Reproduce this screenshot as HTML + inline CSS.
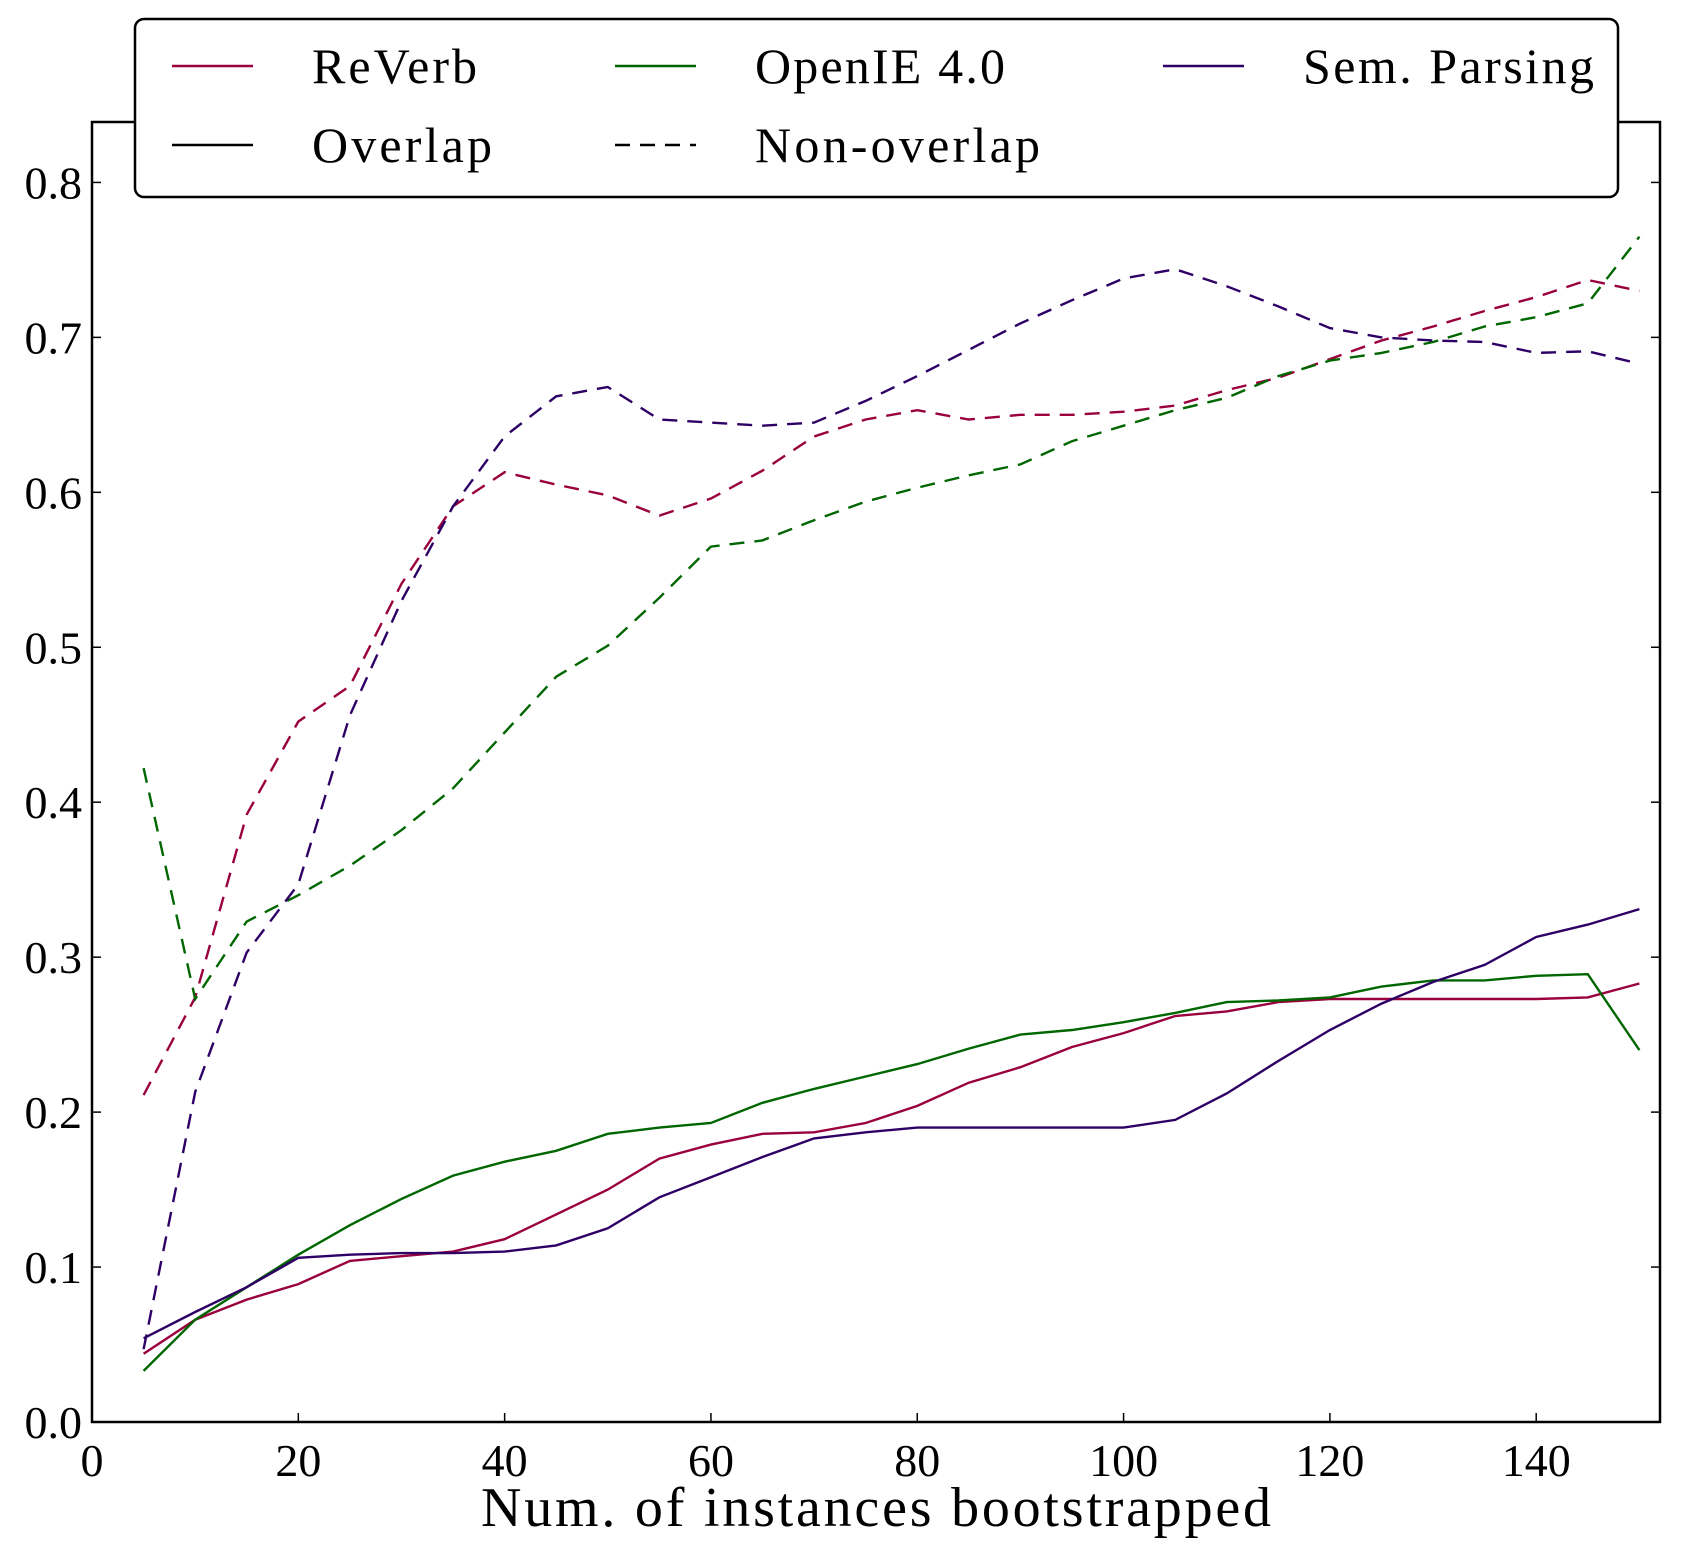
<!DOCTYPE html>
<html><head><meta charset="utf-8"><style>
html,body{margin:0;padding:0;background:#fff}
svg{display:block;font-family:"Liberation Serif",serif}
</style></head><body>
<svg id="chart" width="1681" height="1560" viewBox="0 0 1681 1560">
<g id="marks"></g>
<g id="axes"></g>
</svg>
<script>
const xValues=[5,10,15,20,25,30,35,40,45,50,55,60,65,70,75,80,85,90,95,100,105,110,115,120,125,130,135,140,145,150];
const reverbOverlap=[0.044,0.066,0.079,0.089,0.104,0.107,0.110,0.118,0.134,0.150,0.170,0.179,0.186,0.187,0.193,0.204,0.219,0.229,0.242,0.251,0.262,0.265,0.271,0.273,0.273,0.273,0.273,0.273,0.274,0.283];
const openieOverlap=[0.033,0.066,0.087,0.108,0.127,0.144,0.159,0.168,0.175,0.186,0.190,0.193,0.206,0.215,0.223,0.231,0.241,0.250,0.253,0.258,0.264,0.271,0.272,0.274,0.281,0.285,0.285,0.288,0.289,0.240];
const semOverlap=[0.054,0.071,0.087,0.106,0.108,0.109,0.109,0.110,0.114,0.125,0.145,0.158,0.171,0.183,0.187,0.190,0.190,0.190,0.190,0.190,0.195,0.212,0.233,0.253,0.270,0.284,0.295,0.313,0.321,0.331];
const reverbNon=[0.211,0.274,0.392,0.452,0.475,0.541,0.591,0.613,0.605,0.598,0.585,0.596,0.614,0.636,0.647,0.653,0.647,0.650,0.650,0.652,0.656,0.666,0.674,0.686,0.698,0.707,0.717,0.726,0.737,0.730];
const openieNon=[0.422,0.273,0.323,0.340,0.359,0.382,0.409,0.445,0.481,0.501,0.532,0.565,0.569,0.582,0.594,0.603,0.611,0.618,0.633,0.643,0.653,0.661,0.675,0.685,0.690,0.697,0.707,0.713,0.722,0.765];
const semNon=[0.047,0.213,0.303,0.347,0.456,0.530,0.591,0.636,0.662,0.668,0.647,0.645,0.643,0.645,0.659,0.675,0.692,0.709,0.724,0.738,0.744,0.733,0.720,0.706,0.700,0.698,0.697,0.690,0.691,0.683];
const xTicks=[0,20,40,60,80,100,120,140];
const yTicks=[0.0,0.1,0.2,0.3,0.4,0.5,0.6,0.7,0.8];

const L=92,R=1660,T=122,B=1422,XMAX=152,YMAX=0.839;
const sx=v=>L+(v/XMAX)*(R-L);
const sy=v=>B-(v/YMAX)*(B-T);
const NS="http://www.w3.org/2000/svg";
const marks=document.getElementById('marks'),axes=document.getElementById('axes');
function mk(tag,attrs,parent){const e=document.createElementNS(NS,tag);for(const k in attrs)e.setAttribute(k,attrs[k]);parent.appendChild(e);return e;}
const RED="#99003d",GREEN="#006600",PURP="#2e0066";
const series=[[reverbOverlap,RED,false,'reverb-overlap-line'],[openieOverlap,GREEN,false,'openie-overlap-line'],[semOverlap,PURP,false,'sem-parsing-overlap-line'],
[reverbNon,RED,true,'reverb-non-overlap-line'],[openieNon,GREEN,true,'openie-non-overlap-line'],[semNon,PURP,true,'sem-parsing-non-overlap-line']];
series.forEach(s=>{
 const d=s[0].map((v,i)=>(i?'L':'M')+sx(xValues[i]).toFixed(1)+','+sy(v).toFixed(1)).join('');
 const p=mk('path',{d:d,fill:'none',stroke:s[1],'stroke-width':2.4},marks);
 if(s[2])p.setAttribute('stroke-dasharray','15,10');
 
 
});
const fr=mk('rect',{x:L,y:T,width:R-L,height:B-T,fill:'none',stroke:'#000','stroke-width':2.5},axes);

xTicks.forEach(t=>{
 const x=sx(t);
 mk('line',{x1:x,y1:B,x2:x,y2:B-9,stroke:'#000','stroke-width':1.5},axes);
 mk('line',{x1:x,y1:T,x2:x,y2:T+9,stroke:'#000','stroke-width':1.5},axes);
 const tx=mk('text',{x:x,y:B+54,'text-anchor':'middle','font-size':46},axes);
 tx.textContent=t;
 
});
yTicks.forEach(t=>{
 const y=sy(t);
 mk('line',{x1:L,y1:y,x2:L+9,y2:y,stroke:'#000','stroke-width':1.5},axes);
 mk('line',{x1:R,y1:y,x2:R-9,y2:y,stroke:'#000','stroke-width':1.5},axes);
 const tx=mk('text',{x:L-10,y:y+16,'text-anchor':'end','font-size':46},axes);
 tx.textContent=t.toFixed(1);
 
});
const xl=mk('text',{x:876,y:1526,'text-anchor':'middle','font-size':56,textLength:790},axes);
xl.textContent='Num. of instances bootstrapped';

const lg=mk('g',{},axes);

mk('rect',{x:135,y:19,width:1483,height:178,rx:9,fill:'#fff',stroke:'#000','stroke-width':2.5},lg);
const entries=[[172,66,RED,false,'ReVerb',165],[615,66,GREEN,false,'OpenIE 4.0',250],[1163,66,PURP,false,'Sem. Parsing',291],[172,145,'#000',false,'Overlap',180],[615,145,'#000',true,'Non-overlap',285]];
entries.forEach(e=>{
 const g=mk('g',{},lg);
 
 const ln=mk('line',{x1:e[0],y1:e[1],x2:e[0]+81,y2:e[1],stroke:e[2],'stroke-width':2.4},g);
 if(e[3])ln.setAttribute('stroke-dasharray','15,10');
 const t=mk('text',{x:e[0]+140,y:e[1]+17,'font-size':50,textLength:e[5]},g);
 t.textContent=e[4];
});
</script>
</body></html>
